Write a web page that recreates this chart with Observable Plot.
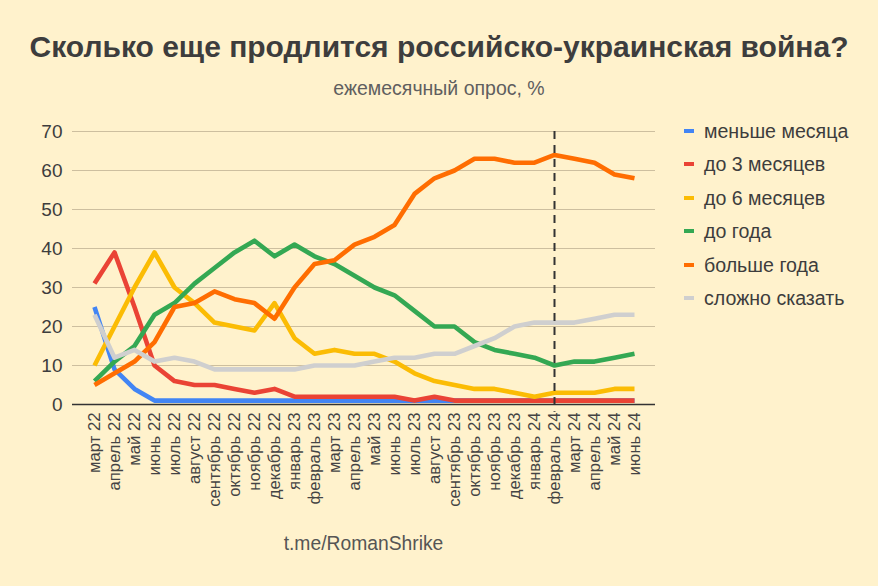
<!DOCTYPE html>
<html>
<head>
<meta charset="utf-8">
<script src="https://cdn.jsdelivr.net/npm/d3@7"></script>
<script src="https://cdn.jsdelivr.net/npm/@observablehq/plot@0.6"></script>
<style>
  html, body { margin: 0; padding: 0; background: #fff2cc; }
  #wrap { position: relative; width: 878px; height: 586px; background: #fff2cc; font-family: "Liberation Sans", Arial, sans-serif; overflow: hidden; }
  #title { position: absolute; left: 0; width: 878px; top: 29px; text-align: center; font-size: 30px; line-height: 36px; font-weight: bold; color: #3d3d3d; }
  #subtitle { position: absolute; left: 0; width: 878px; top: 77px; text-align: center; font-size: 19.5px; line-height: 22px; color: #5f5f5f; }
  #chart { position: absolute; left: 0; top: 110px; }
  #caption { position: absolute; left: 72px; width: 583px; top: 532px; text-align: center; font-size: 19.3px; line-height: 24px; color: #555; }
  #legend { position: absolute; left: 684px; top: 119px; }
  .row { position: relative; height: 33.4px; font-size: 19.6px; line-height: 24px; color: #3d3d3d; white-space: nowrap; }
  .sw { position: absolute; left: 0; top: 10px; width: 10px; height: 4px; }
  .lab { position: absolute; left: 20px; top: 0; }
</style>
</head>
<body>
<div id="wrap">
  <div id="title"></div>
  <div id="subtitle"></div>
  <div id="chart"></div>
  <div id="legend"></div>
  <div id="caption"></div>
</div>
<script>
const titleText = "Сколько еще продлится российско-украинская война?";
const subtitleText = "ежемесячный опрос, %";
const captionText = "t.me/RomanShrike";

const months = ["март 22","апрель 22","май 22","июнь 22","июль 22","август 22","сентябрь 22","октябрь 22","ноябрь 22","декабрь 22",
  "январь 23","февраль 23","март 23","апрель 23","май 23","июнь 23","июль 23","август 23","сентябрь 23","октябрь 23","ноябрь 23","декабрь 23",
  "январь 24","февраль 24","март 24","апрель 24","май 24","июнь 24"];

const seriesNames = ["меньше месяца","до 3 месяцев","до 6 месяцев","до года","больше года","сложно сказать"];
const seriesColors = ["#4285f4","#ea4335","#fbbc04","#34a853","#ff6d01","#cfcfcf"];

const lessMonth = [25,9,4,1,1,1,1,1,1,1,1,1,1,1,1,1,1,1,1,1,1,1,1,1,1,1,1,1];
const upTo3 = [31,39,25,10,6,5,5,4,3,4,2,2,2,2,2,2,1,2,1,1,1,1,1,1,1,1,1,1];
const upTo6 = [10,20,30,39,30,26,21,20,19,26,17,13,14,13,13,11,8,6,5,4,4,3,2,3,3,3,4,4];
const upToYear = [6,11,15,23,26,31,35,39,42,38,41,38,36,33,30,28,24,20,20,16,14,13,12,10,11,11,12,13];
const moreYear = [5,8,11,16,25,26,29,27,26,22,30,36,37,41,43,46,54,58,60,63,63,62,62,64,63,62,59,58];
const hard = [23,12,14,11,12,11,9,9,9,9,9,10,10,10,11,12,12,13,13,15,17,20,21,21,21,22,23,23];

const yTicks = [0,10,20,30,40,50,60,70];
const markerMonth = ["февраль 24"];

const allSeries = [lessMonth, upTo3, upTo6, upToYear, moreYear, hard];
const table = [];
allSeries.forEach((vals, si) => vals.forEach((v, i) => table.push({month: months[i], value: v, series: seriesNames[si]})));

document.getElementById("title").textContent = titleText;
document.getElementById("subtitle").textContent = subtitleText;
document.getElementById("caption").textContent = captionText;

const chart = Plot.plot({
  width: 878,
  height: 400,
  marginLeft: 72,
  marginRight: 223,
  marginTop: 21,
  marginBottom: 106,
  style: {background: "transparent", fontFamily: "\"Liberation Sans\", Arial, sans-serif", overflow: "visible"},
  x: {type: "point", domain: months, padding: 0.5, label: null},
  y: {domain: [0, 70], label: null},
  color: {domain: seriesNames, range: seriesColors},
  marks: [
    Plot.gridY(yTicks, {stroke: "#cdbf9f", strokeOpacity: 1, strokeWidth: 1}),
    Plot.axisY(yTicks, {tickSize: 0, tickPadding: 10, fontSize: 19, fill: "#3d3d3d", label: null}),
    Plot.axisX({tickSize: 0, tickPadding: 8, tickRotate: -90, fontSize: 16.7, fill: "#444", label: null}),
    Plot.ruleY([0], {stroke: "#333", strokeWidth: 1.5}),
    Plot.line(table, {x: "month", y: "value", z: "series", stroke: "series", strokeWidth: 4.6, strokeLinejoin: "round", strokeLinecap: "butt"}),
    Plot.ruleX(markerMonth, {y1: 70, y2: -2, stroke: "#333", strokeWidth: 2, strokeDasharray: "8,6"})
  ]
});
document.getElementById("chart").appendChild(chart);

const legend = document.getElementById("legend");
seriesNames.forEach((name, i) => {
  const row = document.createElement("div");
  row.className = "row";
  const sw = document.createElement("div");
  sw.className = "sw";
  sw.style.background = seriesColors[i];
  const lab = document.createElement("div");
  lab.className = "lab";
  lab.textContent = name;
  row.appendChild(sw);
  row.appendChild(lab);
  legend.appendChild(row);
});
</script>
</body>
</html>
